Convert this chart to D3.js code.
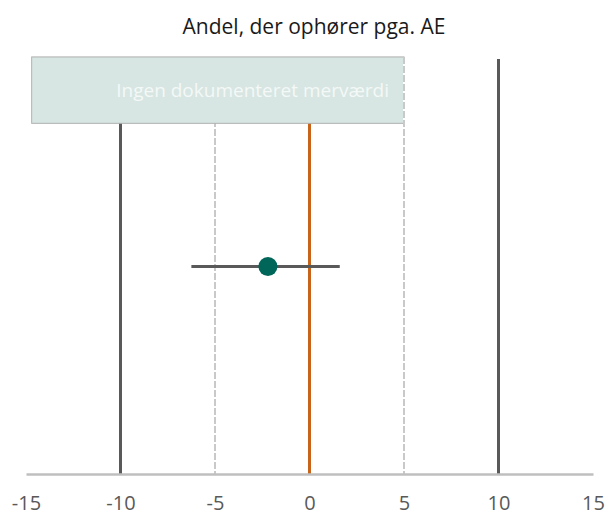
<!DOCTYPE html>
<html>
<head>
<meta charset="utf-8">
<script src="https://cdn.jsdelivr.net/npm/d3@7"></script>
<style>
  body { margin: 0; background: #fff; }
  text { font-family: "Open Sans", "Noto Sans", sans-serif; }
</style>
</head>
<body>
<svg id="chart"></svg>
<script>
// chart values
var titleText = "Andel, der ophører pga. AE";
var xTicks = [-15, -10, -5, 0, 5, 10, 15];
var solidRefs = [-10, 10];
var dashedRefs = [-5, 5];
var zeroRef = [0];
var estimate = [{ label: "AE", value: -2.2, low: -6.25, high: 1.6, y: 0.5 }];
var zoneLabel = "Ingen dokumenteret merværdi";
var zone = [{ from: -14.7, to: 5, bottom: 0.845, top: 1.005 }];

function drawChart() {
    var width = 608;
    var height = 515;

    var svg = d3.select("#chart").attr("width", width).attr("height", height);

    var xScale = d3.scaleLinear()
                   .domain([-15, 15])
                   .range([26, 593]);

    var yScale = d3.scaleLinear()
                   .domain([0, 1])
                   .range([474, 59]);

    svg.append("text")
       .attr("x", 314)
       .attr("y", 34)
       .attr("text-anchor", "middle")
       .attr("font-size", 21)
       .attr("fill", "#1a1a1a")
       .text(titleText);

    // reference lines
    svg.selectAll(".solid").data(solidRefs).enter().append("line")
       .attr("x1", function(d) { return xScale(d); })
       .attr("x2", function(d) { return xScale(d); })
       .attr("y1", yScale(1)).attr("y2", yScale(0))
       .attr("stroke", "#595959").attr("stroke-width", 3);

    svg.selectAll(".zero").data(zeroRef).enter().append("line")
       .attr("x1", function(d) { return xScale(d); })
       .attr("x2", function(d) { return xScale(d); })
       .attr("y1", yScale(1)).attr("y2", yScale(0))
       .attr("stroke", "#c8641a").attr("stroke-width", 3);

    svg.selectAll(".dashed").data(dashedRefs).enter().append("line")
       .attr("x1", function(d) { return xScale(d); })
       .attr("x2", function(d) { return xScale(d); })
       .attr("y1", yScale(1.005)).attr("y2", yScale(0))
       .attr("stroke", "#c9c9c9").attr("stroke-width", 2)
       .attr("stroke-dasharray", "7,2");

    // shaded zone
    var z = svg.selectAll(".zone").data(zone).enter().append("g");
    z.append("rect")
     .attr("x", function(d) { return xScale(d.from); })
     .attr("y", function(d) { return yScale(d.top); })
     .attr("width", function(d) { return xScale(d.to) - xScale(d.from); })
     .attr("height", function(d) { return yScale(d.bottom) - yScale(d.top); })
     .attr("fill", "#d7e6e2")
     .attr("stroke", "#b0b0b0").attr("stroke-width", 1);
    z.append("line")
     .attr("x1", function(d) { return xScale(d.to); })
     .attr("x2", function(d) { return xScale(d.to); })
     .attr("y1", function(d) { return yScale(d.top); })
     .attr("y2", function(d) { return yScale(d.bottom); })
     .attr("stroke", "#fff").attr("stroke-width", 2);
    z.append("line")
     .attr("x1", function(d) { return xScale(d.to); })
     .attr("x2", function(d) { return xScale(d.to); })
     .attr("y1", function(d) { return yScale(d.top); })
     .attr("y2", function(d) { return yScale(d.bottom); })
     .attr("stroke", "#c9c9c9").attr("stroke-width", 2)
     .attr("stroke-dasharray", "7,2");
    z.append("text")
     .attr("x", function(d) { return xScale(d.to) - 15; })
     .attr("y", function(d) { return (yScale(d.top) + yScale(d.bottom)) / 2 + 7; })
     .attr("text-anchor", "end")
     .attr("font-size", 19)
     .attr("fill", "#f4f8f7")
     .text(zoneLabel);

    // x axis
    var xAxis = d3.axisBottom(xScale).tickValues(xTicks).tickSize(0).tickPadding(22)
                  .tickFormat(function(d) { return String(d); });
    var ax = svg.append("g").attr("transform", "translate(0," + yScale(0) + ")").call(xAxis);
    ax.select(".domain").attr("stroke", "#bfbfbf").attr("stroke-width", 2.5);
    ax.selectAll("text").attr("font-size", 20).attr("fill", "#595959")
      .attr("font-family", "'Open Sans', sans-serif");

    // estimate with interval
    var p = svg.selectAll(".est").data(estimate).enter().append("g");
    p.append("line")
     .attr("x1", function(d) { return xScale(d.low); })
     .attr("x2", function(d) { return xScale(d.high); })
     .attr("y1", function(d) { return yScale(d.y); })
     .attr("y2", function(d) { return yScale(d.y); })
     .attr("stroke", "#595959").attr("stroke-width", 3);
    p.append("circle")
     .attr("cx", function(d) { return xScale(d.value); })
     .attr("cy", function(d) { return yScale(d.y); })
     .attr("r", 9.5)
     .attr("fill", "#006659");
}

drawChart();
</script>
</body>
</html>
